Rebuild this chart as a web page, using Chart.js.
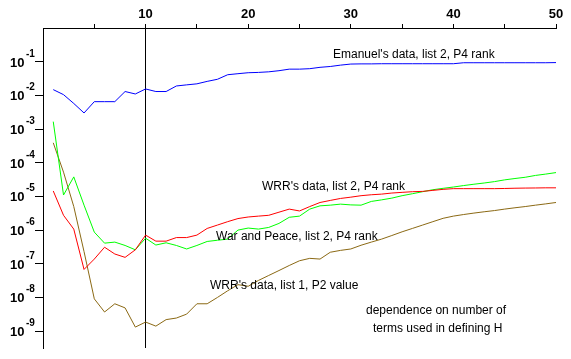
<!DOCTYPE html>
<html>
<head>
<meta charset="utf-8">
<title>dependence on number of terms</title>
<script src="https://cdn.jsdelivr.net/npm/chart.js@4.4.1/dist/chart.umd.min.js"></script>
<style>
    html, body { margin: 0; padding: 0; background: #fff; }
    #chart { display: block; }
</style>
</head>
<body>
<canvas id="chart" width="571" height="359"></canvas>
<script>

// ===============================
// DATA
// ===============================

let terms = [
    1, 2, 3, 4, 5, 6, 7, 8, 9, 10,
    11, 12, 13, 14, 15, 16, 17, 18, 19, 20,
    21, 22, 23, 24, 25, 26, 27, 28, 29, 30,
    31, 32, 33, 34, 35, 36, 37, 38, 39, 40,
    41, 42, 43, 44, 45, 46, 47, 48, 49, 50
];

let emanuelList2 = [
    1.48e-2, 1.05e-2, 5.75e-3, 3.0e-3, 6.5e-3, 6.5e-3, 6.5e-3, 1.3e-2, 1.1e-2, 1.55e-2,
    1.3e-2, 1.3e-2, 1.9e-2, 2.05e-2, 2.2e-2, 2.6e-2, 3.0e-2, 4.1e-2, 4.4e-2, 4.7e-2,
    4.8e-2, 5.0e-2, 5.4e-2, 6.0e-2, 6.0e-2, 6.2e-2, 6.8e-2, 7.2e-2, 7.9e-2, 8.5e-2,
    8.6e-2, 8.6e-2, 8.7e-2, 8.7e-2, 8.7e-2, 8.7e-2, 8.7e-2, 8.7e-2, 8.7e-2, 8.7e-2,
    9.3e-2, 9.3e-2, 9.3e-2, 9.3e-2, 9.3e-2, 9.3e-2, 9.3e-2, 9.3e-2, 9.3e-2, 9.4e-2
];

let wrrList2 = [
    1.45e-5, 2.75e-6, 1.07e-6, 6.8e-8, 1.38e-7, 3.1e-7, 1.95e-7, 1.55e-7, 2.6e-7, 7.1e-7,
    4.7e-7, 4.7e-7, 6.0e-7, 6.0e-7, 7.1e-7, 1.12e-6, 1.41e-6, 1.78e-6, 2.2e-6, 2.45e-6,
    2.6e-6, 2.75e-6, 3.4e-6, 4.2e-6, 3.7e-6, 5.0e-6, 6.6e-6, 7.6e-6, 8.7e-6, 9.5e-6,
    1.05e-5, 1.12e-5, 1.17e-5, 1.26e-5, 1.32e-5, 1.38e-5, 1.41e-5, 1.51e-5, 1.62e-5, 1.7e-5,
    1.7e-5, 1.7e-5, 1.7e-5, 1.7e-5, 1.72e-5, 1.75e-5, 1.77e-5, 1.78e-5, 1.8e-5, 1.8e-5
];

let warAndPeace = [
    1.66e-3, 1.1e-5, 3.8e-5, 5.5e-6, 8.7e-7, 4.1e-7, 4.4e-7, 3.5e-7, 2.6e-7, 5.75e-7,
    3.6e-7, 4.2e-7, 3.5e-7, 2.75e-7, 3.5e-7, 4.6e-7, 5.0e-7, 5.4e-7, 1.0e-6, 1.15e-6,
    1.07e-6, 1.2e-6, 1.58e-6, 2.4e-6, 2.6e-6, 4.2e-6, 5.25e-6, 5.5e-6, 5.9e-6, 5.6e-6,
    5.5e-6, 7.1e-6, 7.9e-6, 8.9e-6, 1.05e-5, 1.2e-5, 1.38e-5, 1.58e-5, 1.74e-5, 1.9e-5,
    2.1e-5, 2.3e-5, 2.5e-5, 2.75e-5, 3.1e-5, 3.4e-5, 3.7e-5, 4.2e-5, 4.6e-5, 5.1e-5
];

let wrrList1 = [
    3.9e-4, 5.25e-5, 5.0e-6, 2.3e-7, 9.1e-9, 3.7e-9, 6.5e-9, 4.9e-9, 1.32e-9, 1.86e-9,
    1.41e-9, 2.2e-9, 2.45e-9, 3.2e-9, 6.5e-9, 6.5e-9, 1.0e-8, 1.58e-8, 2.4e-8, 2.15e-8,
    3.2e-8, 4.5e-8, 6.3e-8, 8.9e-8, 1.23e-7, 1.45e-7, 1.38e-7, 2.2e-7, 2.5e-7, 2.75e-7,
    3.55e-7, 4.4e-7, 5.4e-7, 6.9e-7, 8.9e-7, 1.12e-6, 1.41e-6, 1.78e-6, 2.24e-6, 2.6e-6,
    2.9e-6, 3.2e-6, 3.5e-6, 3.8e-6, 4.2e-6, 4.6e-6, 5.0e-6, 5.5e-6, 6.0e-6, 6.6e-6
];

let xTickLabels = [10, 20, 30, 40, 50];
let yTickValues = [1e-1, 1e-2, 1e-3, 1e-4, 1e-5, 1e-6, 1e-7, 1e-8, 1e-9];
let yTickExponents = ['-1', '-2', '-3', '-4', '-5', '-6', '-7', '-8', '-9'];

// text written straight on the plot
let notes = [
    { text: "Emanuel's data, list 2, P4 rank", x: 333, y: 58 },
    { text: "WRR's data, list 2, P4 rank", x: 262, y: 190 },
    { text: "War and Peace, list 2, P4 rank", x: 216, y: 240 },
    { text: "WRR's data, list 1, P2 value", x: 210, y: 289 },
    { text: "dependence on number of", x: 366, y: 314 },
    { text: "terms used in defining H", x: 373, y: 332 }
];


// ===============================
// HELPERS
// ===============================

function points(values) {
    return terms.map((t, i) => ({ x: t, y: values[i] }));
}

function series(values, colour) {
    return {
        data: points(values),
        borderColor: colour,
        borderWidth: 1,
        pointRadius: 0,
        tension: 0,
        fill: false
    };
}


// ===============================
// PLUGINS
// ===============================

// y labels are "10" with a raised exponent
const yLabels = {
    id: 'yLabels',
    afterDraw(chart) {
        const ctx = chart.ctx;
        const y = chart.scales.y;
        ctx.save();
        ctx.fillStyle = '#000';
        ctx.textAlign = 'left';
        ctx.textBaseline = 'alphabetic';
        yTickValues.forEach((v, i) => {
            let py = y.getPixelForValue(v);
            ctx.font = 'bold 13px "Liberation Sans", Arial, sans-serif';
            ctx.fillText('10', 10, py + 5);
            ctx.font = 'bold 10px "Liberation Sans", Arial, sans-serif';
            ctx.fillText(yTickExponents[i], 26, py - 5);
        });
        ctx.restore();
    }
};

const notesPlugin = {
    id: 'notes',
    afterDraw(chart) {
        const ctx = chart.ctx;
        ctx.save();
        ctx.fillStyle = '#000';
        ctx.font = '12px "Liberation Sans", Arial, sans-serif';
        ctx.textAlign = 'left';
        ctx.textBaseline = 'alphabetic';
        notes.forEach(n => ctx.fillText(n.text, n.x, n.y));
        ctx.restore();
    }
};

const whiteBack = {
    id: 'whiteBack',
    beforeDraw(chart) {
        const ctx = chart.ctx;
        ctx.save();
        ctx.fillStyle = '#fff';
        ctx.fillRect(0, 0, chart.width, chart.height);
        ctx.restore();
    }
};


// ===============================
// CHART SETUP
// ===============================

const ctx = document.getElementById('chart').getContext('2d');

let chart = new Chart(ctx, {

    type: 'line',

    data: {
        datasets: [
            series(emanuelList2, '#0000ff'),
            series(wrrList2, '#ff0000'),
            series(warAndPeace, '#00ff00'),
            series(wrrList1, '#8b6914')
        ]
    },

    options: {
        responsive: false,
        animation: false,
        events: [],
        layout: {
            padding: { left: 0, right: 15, top: 0, bottom: 11 }
        },
        plugins: {
            legend: { display: false },
            tooltip: { enabled: false }
        },
        scales: {
            x: {
                type: 'linear',
                position: 'top',
                min: 0,
                max: 50,
                afterFit(scale) { scale.height = 28; },
                ticks: {
                    stepSize: 5,
                    autoSkip: false,
                    maxRotation: 0,
                    padding: 2,
                    color: '#000',
                    font: { family: '"Liberation Sans", Arial, sans-serif', size: 13, weight: 'bold' },
                    callback: v => xTickLabels.includes(v) ? String(v) : ''
                },
                grid: {
                    drawOnChartArea: true,
                    drawTicks: true,
                    tickLength: 4,
                    lineWidth: 1,
                    color: c => (c.tick && c.tick.value === 10) ? '#000' : 'rgba(0,0,0,0)',
                    tickColor: c => (c.tick && c.tick.value === 0) ? 'rgba(0,0,0,0)' : '#000'
                },
                border: { display: true, color: '#000', width: 1 }
            },
            y: {
                type: 'logarithmic',
                position: 'left',
                min: 3.16e-10,
                max: 1,
                afterFit(scale) { scale.width = 43; },
                afterBuildTicks(scale) {
                    scale.ticks = yTickValues.map(v => ({ value: v }));
                },
                ticks: {
                    display: true,
                    callback: () => ''
                },
                grid: {
                    drawOnChartArea: false,
                    drawTicks: true,
                    tickLength: 8,
                    color: '#000',
                    tickColor: '#000'
                },
                border: { display: true, color: '#000', width: 1 }
            }
        }
    },

    plugins: [whiteBack, yLabels, notesPlugin]
});

</script>
</body>
</html>
